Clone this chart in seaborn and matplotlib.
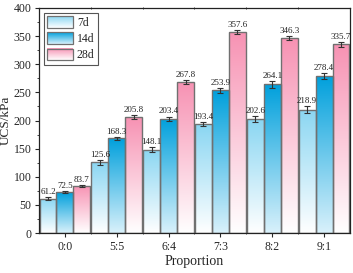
import numpy as np
import pandas as pd
import seaborn as sns
import matplotlib.pyplot as plt
from matplotlib.colors import LinearSegmentedColormap
from matplotlib.legend_handler import HandlerBase
from matplotlib.image import BboxImage
from matplotlib.transforms import Bbox, TransformedBbox
from matplotlib.patches import Rectangle
from matplotlib.ticker import MultipleLocator, FixedLocator

proportions = ['0:0', '5:5', '6:4', '7:3', '8:2', '9:1']
ages = ['7d', '14d', '28d']
ucs_7d = [61.2, 125.6, 148.1, 193.4, 202.6, 218.9]
ucs_14d = [72.5, 168.3, 203.4, 253.9, 264.1, 278.4]
ucs_28d = [83.7, 205.8, 267.8, 357.6, 346.3, 335.7]
err_7d = [3.0, 4.0, 4.5, 4.0, 5.0, 6.0]
err_14d = [2.0, 3.0, 3.5, 4.5, 5.5, 5.5]
err_28d = [2.0, 3.5, 3.5, 3.0, 3.5, 4.5]

# gradient colours (top -> bottom)
grad_colors = {
    '7d': ['#8ad6f2', '#ffffff'],
    '14d': ['#00a0dc', '#d9f1fb'],
    '28d': ['#f792b3', '#ffffff'],
}
cmaps = {k: LinearSegmentedColormap.from_list(k, v[::-1]) for k, v in grad_colors.items()}

df = pd.DataFrame({
    'Proportion': proportions * 3,
    'UCS': ucs_7d + ucs_14d + ucs_28d,
    'err': err_7d + err_14d + err_28d,
    'Age': [a for a in ages for _ in proportions],
})

sns.set_style('ticks')
plt.rcParams['font.family'] = ['Liberation Serif', 'DejaVu Serif']
plt.rcParams['xtick.major.width'] = 0.8
plt.rcParams['ytick.major.width'] = 0.8

fig = plt.figure(figsize=(3.53, 2.73), dpi=100)
ax = fig.add_axes([39 / 353, 40 / 273, 311 / 353, 225 / 273])

sns.barplot(data=df, x='Proportion', y='UCS', hue='Age', hue_order=ages,
            order=proportions, errorbar=None, width=0.98, gap=0,
            palette=['white'] * 3, edgecolor='#707070', linewidth=1.0,
            legend=False, ax=ax)

ax.set_xlim(-0.5, 5.5)
ax.set_ylim(0, 400)
grad = np.linspace(0, 1, 256).reshape(-1, 1)

for container, age in zip(ax.containers, ages):
    sub = df[df['Age'] == age]
    for bar, val, err in zip(container.patches, sub['UCS'], sub['err']):
        x0, w = bar.get_x(), bar.get_width()
        h = bar.get_height()
        im = ax.imshow(grad, cmap=cmaps[age], origin='lower', aspect='auto',
                       extent=[x0, x0 + w, 0, h], zorder=bar.get_zorder() - 0.1)
        im.set_clip_path(bar)
        bar.set_facecolor('none')
        xc = x0 + w / 2
        ax.errorbar(xc, val, yerr=err, fmt='none', ecolor='#333333',
                    elinewidth=0.8, capsize=2, capthick=0.8, zorder=5)
        ax.text(xc, val + err + 2, f'{val:.1f}', ha='center', va='bottom',
                fontsize=6.5, color='#222222')

ax.set_xlim(-0.5, 5.5)
ax.set_ylim(0, 400)

ax.yaxis.set_major_locator(MultipleLocator(50))
ax.yaxis.set_minor_locator(MultipleLocator(25))
ax.xaxis.set_minor_locator(FixedLocator(np.arange(0.5, 5.5, 1)))
ax.tick_params(axis='both', labelsize=8.5, length=3, direction='out', pad=2.5)
ax.tick_params(axis='y', which='minor', length=1.8, direction='out')
ax.tick_params(axis='x', which='minor', length=2, direction='inout', top=True)
ax.tick_params(axis='x', which='major', top=False)
for s in ax.spines.values():
    s.set_linewidth(0.9)
    s.set_color('#222222')

ax.set_xlabel('Proportion', fontsize=10, labelpad=2)
ax.set_ylabel('UCS/kPa', fontsize=9.5, labelpad=1)


class GradientHandler(HandlerBase):
    def __init__(self, cmap):
        super().__init__()
        self.cmap = cmap

    def create_artists(self, legend, orig_handle, xdescent, ydescent,
                       width, height, fontsize, trans):
        bb = TransformedBbox(Bbox.from_bounds(-xdescent, -ydescent, width, height), trans)
        img = BboxImage(bb, cmap=self.cmap, origin='lower', interpolation='bilinear')
        img.set_data(grad)
        rect = Rectangle((-xdescent, -ydescent), width, height, facecolor='none',
                         edgecolor='#707070', linewidth=0.9, transform=trans)
        return [img, rect]


handles = [Rectangle((0, 0), 1, 1) for _ in ages]
leg = ax.legend(handles, ages, loc='upper left', fontsize=8.5,
                handler_map={h: GradientHandler(cmaps[a]) for h, a in zip(handles, ages)},
                handlelength=2.2, handleheight=1.1, labelspacing=0.3,
                handletextpad=0.3, borderpad=0.3, borderaxespad=0.4,
                fancybox=False, edgecolor='#555555', framealpha=1)
leg.get_frame().set_linewidth(0.8)

fig.savefig('out.png', dpi=100)
